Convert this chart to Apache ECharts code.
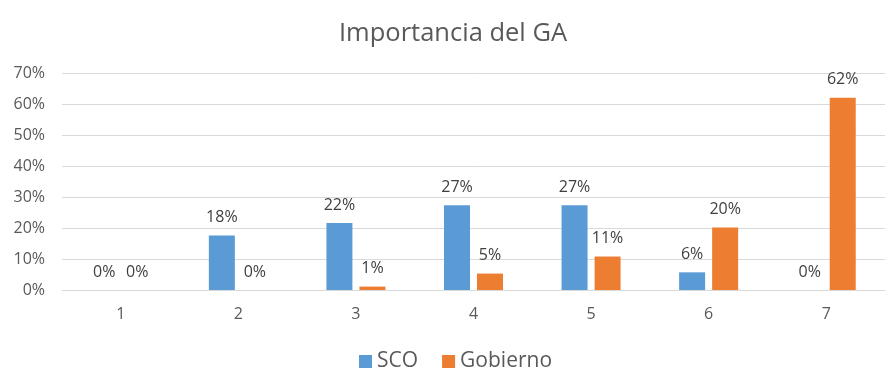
<!DOCTYPE html>
<html>
<head>
<meta charset="utf-8">
<script src="https://cdn.jsdelivr.net/npm/echarts@6/dist/echarts.min.js"></script>
<style>
  html, body { margin: 0; padding: 0; background: #fff; }
  #chart { width: 889px; height: 388px; }
</style>
</head>
<body>
<div id="chart"></div>
<script>
// valores (porcentaje)
var categorias = ['1', '2', '3', '4', '5', '6', '7'];
var sco = [0, 17.6, 21.6, 27.3, 27.3, 5.7, 0];
var gobierno = [0, 0, 1.1, 5.3, 10.8, 20.2, 62.0];
var ticksY = [0, 10, 20, 30, 40, 50, 60, 70];

var fuente = '"Open Sans", "DejaVu Sans", sans-serif';

function etiqueta(p) {
    return Math.round(p.value) + '%';
}

var myChart = echarts.init(document.getElementById('chart'));
var options = {
    animation: false,
    color: ['#5B9BD5', '#ED7D31'],
    title: {
        text: 'Importancia del GA',
        left: 334,
        top: 16,
        textStyle: { fontFamily: fuente, fontSize: 25.5, fontWeight: 'normal', color: '#595959' }
    },
    legend: {
        bottom: 11,
        left: 354,
        itemWidth: 13,
        itemHeight: 13,
        itemGap: 24,
        icon: 'rect',
        textStyle: { fontFamily: fuente, fontSize: 21, color: '#595959' },
        data: ['SCO', 'Gobierno']
    },
    grid: {
        left: 62,
        right: 4,
        top: 73,
        bottom: 98
    },
    xAxis: {
        type: 'category',
        data: categorias,
        axisTick: { show: false },
        axisLine: { lineStyle: { color: '#D9D9D9', width: 1 } },
        axisLabel: { fontFamily: fuente, fontSize: 16, color: '#595959', margin: 16 }
    },
    yAxis: {
        type: 'value',
        min: ticksY[0],
        max: ticksY[ticksY.length - 1],
        interval: 10,
        axisLine: { show: false },
        axisTick: { show: false },
        splitLine: { lineStyle: { color: '#D9D9D9', width: 1 } },
        axisLabel: {
            fontFamily: fuente, fontSize: 16, color: '#595959', margin: 17,
            formatter: function (v) { return v + '%'; }
        }
    },
    series: [
        {
            name: 'SCO',
            type: 'bar',
            data: sco,
            barWidth: 26,
            barGap: '27%',
            label: {
                show: true, position: 'top', distance: 10,
                fontFamily: fuente, fontSize: 16, color: '#404040',
                formatter: etiqueta
            }
        },
        {
            name: 'Gobierno',
            type: 'bar',
            data: gobierno,
            barWidth: 26,
            barGap: '27%',
            label: {
                show: true, position: 'top', distance: 10,
                fontFamily: fuente, fontSize: 16, color: '#404040',
                formatter: etiqueta
            }
        }
    ]
};
myChart.setOption(options);
window.onresize = myChart.resize;
</script>
</body>
</html>
